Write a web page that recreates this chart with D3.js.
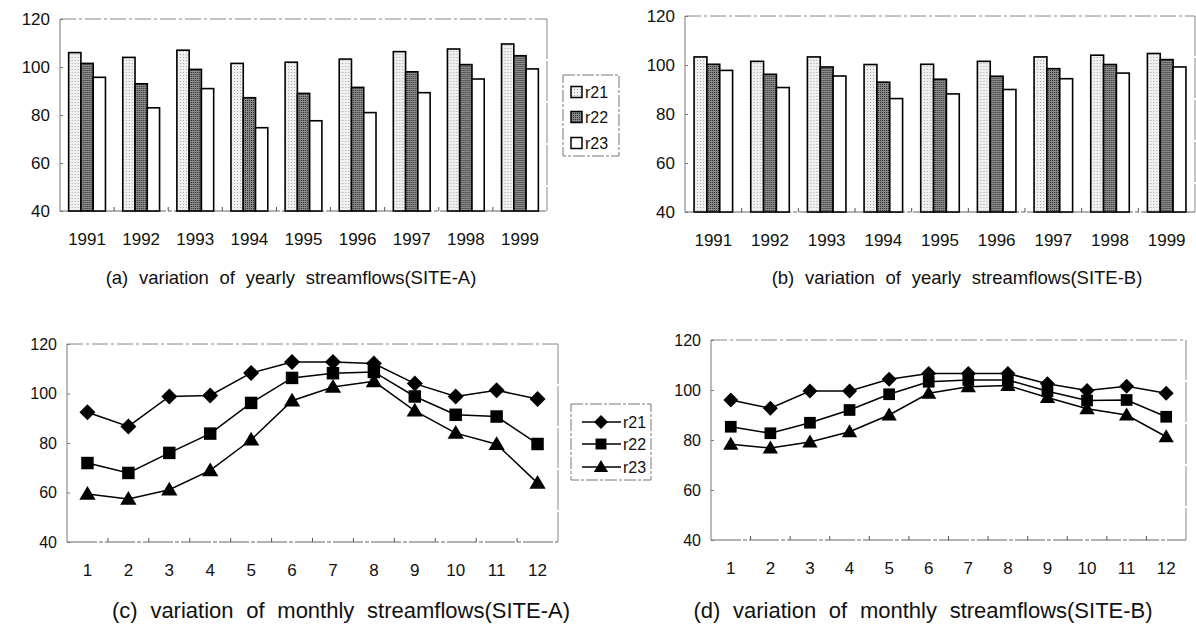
<!DOCTYPE html>
<html>
<head>
<meta charset="utf-8">
<script src="https://cdn.jsdelivr.net/npm/d3@7"></script>
<style>
  body { margin: 0; background: #fff; }
  svg { display: block; font-family: "Liberation Sans", Arial, sans-serif; }
</style>
</head>
<body>
<script>
// ---- data ----
const years = ["1991", "1992", "1993", "1994", "1995", "1996", "1997", "1998", "1999"];
const months = ["1", "2", "3", "4", "5", "6", "7", "8", "9", "10", "11", "12"];
const seriesNames = ["r21", "r22", "r23"];
const yTicks = [40, 60, 80, 100, 120];

// yearly, SITE-A
const yearA_r21 = [106, 104, 107, 101.5, 102, 103.3, 106.4, 107.5, 109.6];
const yearA_r22 = [101.5, 93, 99, 87.2, 89, 91.5, 98, 101, 104.7];
const yearA_r23 = [95.7, 83, 91, 74.7, 77.6, 81, 89.3, 95, 99.2];
// yearly, SITE-B
const yearB_r21 = [103.3, 101.5, 103.3, 100.2, 100.3, 101.5, 103.3, 104, 104.7];
const yearB_r22 = [100.3, 96.2, 99.2, 93, 94.2, 95.4, 98.5, 100.2, 102.2];
const yearB_r23 = [97.8, 90.8, 95.5, 86.3, 88.2, 90, 94.4, 96.7, 99.2];
// monthly, SITE-A
const monA_r21 = [92.4, 86.7, 98.8, 99.2, 108.3, 112.7, 112.7, 112.1, 104, 98.8, 101.3, 97.8];
const monA_r22 = [71.9, 67.9, 76, 83.8, 96.2, 106.3, 108.2, 108.7, 98.8, 91.4, 90.7, 79.6];
const monA_r23 = [59.4, 57.4, 61.1, 68.9, 81.3, 97.1, 102.6, 104.9, 93, 84, 79.5, 63.8];
// monthly, SITE-B
const monB_r21 = [96, 92.7, 99.6, 99.6, 104.3, 106.6, 106.6, 106.6, 102.5, 99.8, 101.5, 98.7];
const monB_r22 = [85.3, 82.7, 86.9, 92, 98.3, 103.3, 104, 104, 99.5, 95.8, 96, 89.3];
const monB_r23 = [78.3, 76.8, 79.2, 83.3, 90, 98.7, 101.3, 101.8, 97, 92.5, 90, 81.3];

const width = 1196, height = 630;

const svg = d3.select("body").append("svg")
    .attr("width", width)
    .attr("height", height);

// stippled fills like the printed bars
const defs = svg.append("defs");
const p1 = defs.append("pattern").attr("id", "pat-r21")
    .attr("width", 3).attr("height", 3).attr("patternUnits", "userSpaceOnUse");
p1.append("rect").attr("width", 3).attr("height", 3).attr("fill", "#f0f0f0");
p1.append("rect").attr("width", 1).attr("height", 1).attr("fill", "#a5a5a5");
const p2 = defs.append("pattern").attr("id", "pat-r22")
    .attr("width", 2).attr("height", 2).attr("patternUnits", "userSpaceOnUse");
p2.append("rect").attr("width", 2).attr("height", 2).attr("fill", "#8a8a8a");
p2.append("rect").attr("width", 1).attr("height", 1).attr("fill", "#2c2c2c");

const barFill = { r21: "url(#pat-r21)", r22: "url(#pat-r22)", r23: "#fff" };

// diamond / square / triangle markers
const markerPath = {
  r21: s => `M0,${-s}L${s},0L0,${s}L${-s},0Z`,
  r22: s => `M${-s * 0.78},${-s * 0.78}H${s * 0.78}V${s * 0.78}H${-s * 0.78}Z`,
  r23: s => `M0,${-s}L${s * 1.02},${s * 0.72}L${-s * 1.02},${s * 0.72}Z`
};

// plot frame: grey left/bottom lines, broken top/right like the scan
function drawFrame(box, n) {
  const g = svg.append("g").attr("fill", "none");
  g.append("line").attr("x1", box.left).attr("x2", box.left).attr("y1", box.top).attr("y2", box.bottom)
    .attr("stroke", "#777");
  g.append("line").attr("x1", box.left).attr("x2", box.right).attr("y1", box.top).attr("y2", box.top)
    .attr("stroke", "#888").attr("stroke-dasharray", "16,3,3,3");
  g.append("line").attr("x1", box.right).attr("x2", box.right).attr("y1", box.top).attr("y2", box.bottom)
    .attr("stroke", "#888").attr("stroke-dasharray", "40,2");
  g.append("line").attr("x1", box.left).attr("x2", box.right).attr("y1", box.bottom).attr("y2", box.bottom)
    .attr("stroke", "#666").attr("stroke-dasharray", "30,2,4,2");
  // small upward ticks between categories
  const step = (box.right - box.left) / n;
  g.selectAll(".sep")
    .data(d3.range(1, n))
    .join("line")
      .attr("x1", i => box.left + i * step).attr("x2", i => box.left + i * step)
      .attr("y1", box.bottom).attr("y2", box.bottom - 4)
      .attr("stroke", "#555");
}

function drawYAxis(y, box, fs) {
  const ax = svg.append("g")
      .attr("transform", `translate(${box.left},0)`)
      .call(d3.axisLeft(y).tickValues(yTicks).tickSize(-3).tickPadding(10));
  ax.select(".domain").remove();
  ax.selectAll(".tick line").attr("stroke", "#777");
  ax.selectAll("text").attr("font-size", fs).attr("font-family", null).attr("fill", "#111");
}

function drawXAxis(x, box, fs) {
  const ax = svg.append("g")
      .attr("transform", `translate(0,${box.bottom})`)
      .call(d3.axisBottom(x).tickSize(0).tickPadding(22));
  ax.select(".domain").remove();
  ax.selectAll("text").attr("font-size", fs).attr("font-family", null).attr("fill", "#111");
}

function drawBars(box, r21, r22, r23) {
  const rows = years.map((yr, i) => ({ year: yr, r21: r21[i], r22: r22[i], r23: r23[i] }));
  const x = d3.scaleBand().domain(years).range([box.left, box.right])
      .paddingInner(0.32).paddingOuter(0.16);
  const xs = d3.scaleBand().domain(seriesNames).range([0, x.bandwidth()]);
  const y = d3.scaleLinear().domain([40, 120]).range([box.bottom, box.top]);

  drawFrame(box, years.length);

  svg.append("g")
    .selectAll("g")
    .data(rows)
    .join("g")
      .attr("transform", d => `translate(${x(d.year)},0)`)
    .selectAll("rect")
    .data(d => seriesNames.map(k => ({ key: k, value: d[k] })))
    .join("rect")
      .attr("x", d => xs(d.key))
      .attr("y", d => y(d.value))
      .attr("width", xs.bandwidth())
      .attr("height", d => y(40) - y(d.value))
      .attr("fill", d => barFill[d.key])
      .attr("stroke", "#000")
      .attr("stroke-width", 1.6);

  drawYAxis(y, box, 17);
  drawXAxis(x, box, 17);
}

function drawLines(box, r21, r22, r23, ms) {
  const vals = { r21, r22, r23 };
  const x = d3.scaleBand().domain(months).range([box.left, box.right]);
  const y = d3.scaleLinear().domain([40, 120]).range([box.bottom, box.top]);

  drawFrame(box, months.length);

  const line = d3.line()
      .x((d, i) => x(months[i]) + x.bandwidth() / 2)
      .y(d => y(d));

  seriesNames.forEach(k => {
    svg.append("path")
      .datum(vals[k])
      .attr("d", line)
      .attr("fill", "none")
      .attr("stroke", "#000")
      .attr("stroke-width", 1.5);
    svg.append("g")
      .selectAll("path")
      .data(vals[k])
      .join("path")
        .attr("transform", (d, i) => `translate(${x(months[i]) + x.bandwidth() / 2},${y(d)})`)
        .attr("d", markerPath[k](ms))
        .attr("fill", "#000");
  });

  drawYAxis(y, box, 16);
  drawXAxis(x, box, 17);
}

function caption(text, cx, baseline, fs) {
  svg.append("text")
    .attr("x", cx)
    .attr("y", baseline)
    .attr("text-anchor", "middle")
    .attr("font-size", fs)
    .attr("word-spacing", fs * 0.3)
    .attr("fill", "#111")
    .text(text);
}

// ---- (a) and (b): yearly bars ----
drawBars({ left: 60, right: 547, top: 19, bottom: 211 }, yearA_r21, yearA_r22, yearA_r23);
drawBars({ left: 685, right: 1195, top: 16, bottom: 212 }, yearB_r21, yearB_r22, yearB_r23);

// bar legend
const barLegend = svg.append("g");
barLegend.append("rect")
    .attr("x", 563).attr("y", 75).attr("width", 56).attr("height", 81)
    .attr("fill", "none").attr("stroke", "#777").attr("stroke-dasharray", "12,2,3,2");
const barItems = barLegend.selectAll("g")
  .data(seriesNames)
  .join("g")
    .attr("transform", (d, i) => `translate(571,${[92, 117, 143][i]})`);
barItems.append("rect")
    .attr("x", 0).attr("y", -5.5).attr("width", 11).attr("height", 11)
    .attr("fill", d => barFill[d]).attr("stroke", "#000").attr("stroke-width", 1.5);
barItems.append("text")
    .attr("x", 14).attr("dy", "0.36em")
    .attr("font-size", 16).attr("fill", "#111")
    .text(d => d);

caption("(a) variation of yearly streamflows(SITE-A)", 291, 284, 18.5);
caption("(b) variation of yearly streamflows(SITE-B)", 957, 284, 18.5);

// ---- (c) and (d): monthly lines ----
drawLines({ left: 67, right: 558, top: 344, bottom: 542 }, monA_r21, monA_r22, monA_r23, 8);
drawLines({ left: 711, right: 1186, top: 340, bottom: 540 }, monB_r21, monB_r22, monB_r23, 7.5);

// line legend
const lineLegend = svg.append("g");
lineLegend.append("rect")
    .attr("x", 571).attr("y", 404).attr("width", 80).attr("height", 76)
    .attr("fill", "none").attr("stroke", "#777").attr("stroke-dasharray", "12,2,3,2");
const lineItems = lineLegend.selectAll("g")
  .data(seriesNames)
  .join("g")
    .attr("transform", (d, i) => `translate(601,${[422, 444, 467][i]})`);
lineItems.append("line")
    .attr("x1", -19).attr("x2", 20)
    .attr("stroke", "#000").attr("stroke-width", 1.5);
lineItems.append("path")
    .attr("d", d => markerPath[d](7))
    .attr("fill", "#000");
lineItems.append("text")
    .attr("x", 22).attr("dy", "0.36em")
    .attr("font-size", 16).attr("fill", "#111")
    .text(d => d);

caption("(c) variation of monthly streamflows(SITE-A)", 341, 618, 22);
caption("(d) variation of monthly streamflows(SITE-B)", 923, 618, 22);
</script>
</body>
</html>
